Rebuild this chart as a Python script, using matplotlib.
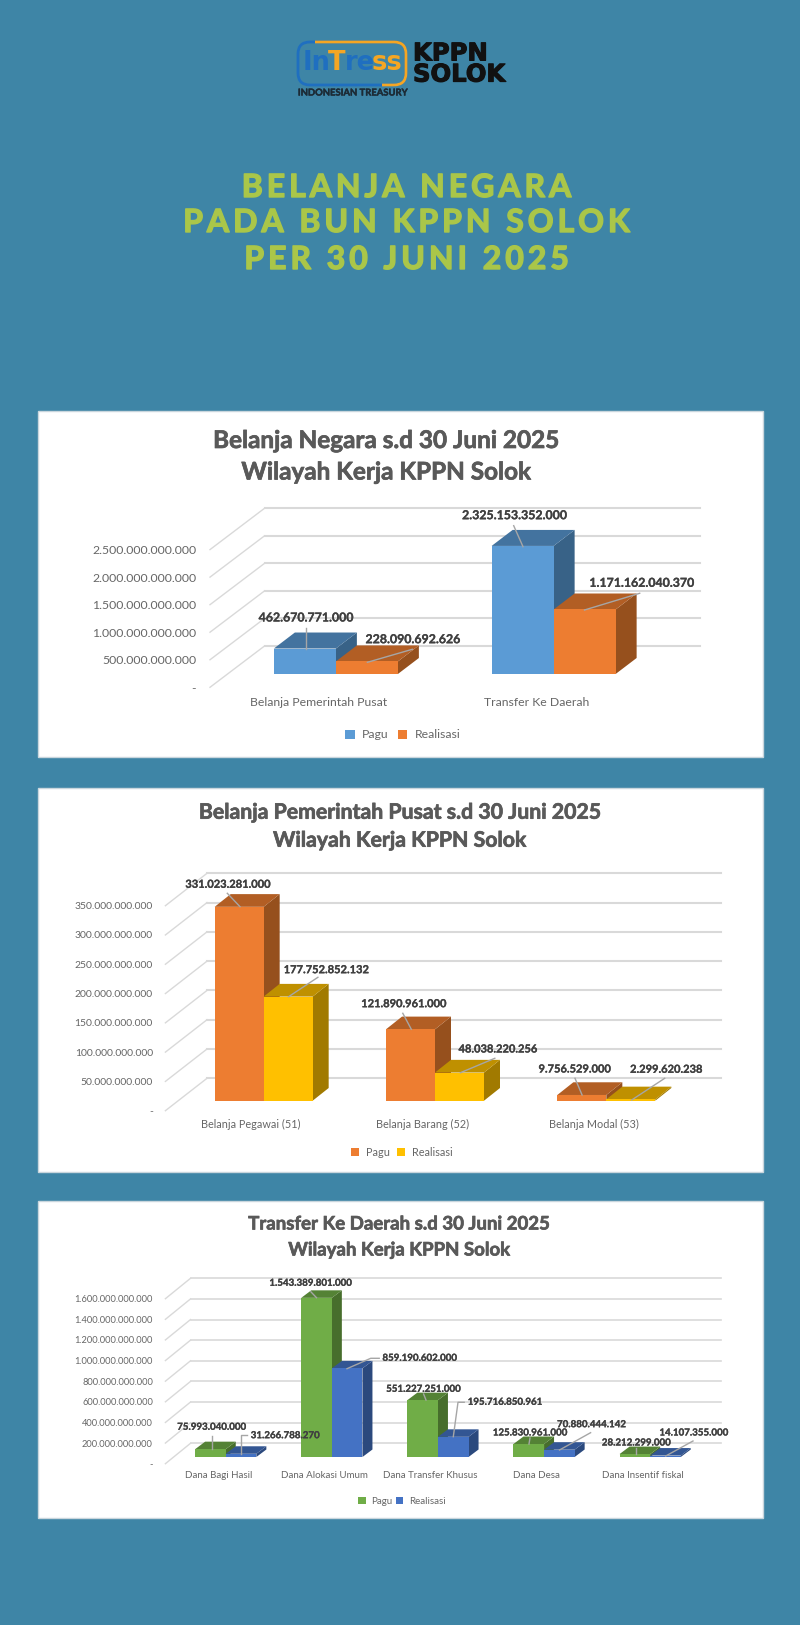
import matplotlib
matplotlib.use('Agg')
import matplotlib.pyplot as plt
import matplotlib.patheffects as pe
from matplotlib.patches import Polygon, Rectangle, FancyBboxPatch

W, H = 800, 1625
plt.rcParams['font.family'] = ['Lato', 'DejaVu Sans']

## chart 1
cats_1 = ['Belanja Pemerintah Pusat', 'Transfer Ke Daerah']
pagu_1 = [462670771000, 2325153352000]
real_1 = [228090692626, 1171162040370]
ticks_1 = [0, 500000000000, 1000000000000, 1500000000000, 2000000000000, 2500000000000]

## chart 2
cats_2 = ['Belanja Pegawai (51)', 'Belanja Barang (52)', 'Belanja Modal (53)']
pagu_2 = [331023281000, 121890961000, 9756529000]
real_2 = [177752852132, 48038220256, 2299620238]
ticks_2 = [0, 50000000000, 100000000000, 150000000000, 200000000000, 250000000000, 300000000000, 350000000000]

## chart 3
cats_3 = ['Dana Bagi Hasil', 'Dana Alokasi Umum', 'Dana Transfer Khusus', 'Dana Desa', 'Dana Insentif fiskal']
pagu_3 = [75993040000, 1543389801000, 551227251000, 125830961000, 28212299000]
real_3 = [31266788270, 859190602000, 195716850961, 70880444142, 14107355000]
ticks_3 = [0, 200000000000, 400000000000, 600000000000, 800000000000, 1000000000000,
           1200000000000, 1400000000000, 1600000000000]

BG = '#3E85A6'
GREY = '#595959'
GRID = '#D9D9D9'

# (front, top, side) shades of each series
BLUE = ('#5B9BD5', '#43739F', '#386287')
ORANGE = ('#ED7D31', '#B25E24', '#96501D')
YELLOW = ('#FFC000', '#BF9000', '#A17A00')
GREEN = ('#70AD47', '#548235', '#476E2C')
ROYAL = ('#4472C4', '#335693', '#2B497D')


def fmt(v):
    return f'{v:,}'.replace(',', '.') if v else '-'


def rect(x0, x1, y_top, y_bot):
    return [x0 / W, 1 - y_bot / H, (x1 - x0) / W, (y_bot - y_top) / H]


fig = plt.figure(figsize=(W / 100, H / 100), dpi=100, facecolor=BG)
bg = fig.add_axes([0, 0, 1, 1], zorder=0)
fg = fig.add_axes([0, 0, 1, 1], zorder=10)
for a in (bg, fg):
    a.set_xlim(0, W)
    a.set_ylim(H, 0)
    a.axis('off')
    a.patch.set_alpha(0)


def panel(box, title, title_y, title_size, cats, s1, s2, ticks, col1, col2, lay):
    bg.add_patch(Rectangle((box[0], box[1]), box[2] - box[0], box[3] - box[1],
                           fc='white', ec='#C9D6DD', lw=1))
    for line, y in zip(title, title_y):
        fg.text(400 + lay['title_dx'], y, line, ha='center', va='center', color=GREY,
                fontsize=title_size, fontweight='bold',
                path_effects=[pe.withStroke(linewidth=0.5, foreground=GREY)])

    n = len(cats)
    ymax = ticks[-1]
    width = lay['back_x'][1] - lay['back_x'][0]
    height = lay['back_y'][0] - lay['back_y'][1]

    # back wall with the gridlines
    back = fig.add_axes(rect(lay['back_x'][0], lay['back_x'][1], lay['back_y'][1], lay['back_y'][0]), zorder=1)
    # front plane carries the axis labels
    fx = lay['front_x']
    fy = lay['front_y']
    front = fig.add_axes(rect(fx, fx + width, fy - height, fy), zorder=2)
    # bar plane
    bx = lay['bar_x']
    by = lay['bar_y']
    ax = fig.add_axes(rect(bx, bx + width, by - height, by), zorder=3)

    for a in (back, front, ax):
        a.set_xlim(0, n)
        a.set_ylim(0, ymax)
        a.patch.set_alpha(0)
        for s in a.spines.values():
            s.set_visible(False)

    back.set_yticks(ticks)
    back.set_xticks([])
    back.tick_params(length=0, labelleft=False)
    back.grid(axis='y', color=GRID, lw=lay['grid_lw'])
    for g in back.get_ygridlines():
        g.set_clip_on(False)

    front.set_yticks(ticks, [fmt(t) for t in ticks])
    front.set_xticks([i + 0.5 for i in range(n)], cats)
    front.tick_params(axis='y', length=0, pad=lay['pad_y'], labelsize=lay['tick_size'], labelcolor='#666666')
    front.tick_params(axis='x', length=0, pad=lay['pad_x'], labelsize=lay['cat_size'], labelcolor='#666666')

    # side wall lines from the front plane to the back wall
    wall_dx = (lay['back_x'][0] - fx) / width * n
    wall_dy = (fy - lay['back_y'][0]) / height * ymax
    for t in ticks:
        front.plot([0, wall_dx], [t, t + wall_dy], color=GRID, lw=1, clip_on=False)

    bw = lay['bar_w'] / width * n
    ddx = lay['depth'][0] / width * n
    ddy = lay['depth'][1] / height * ymax
    handles = []
    for i in range(n):
        for j, (v, col) in enumerate(((s1[i], col1), (s2[i], col2))):
            x0 = i + 0.5 - bw + j * bw
            x1 = x0 + bw
            z = 2 + i * 3 + j * 3
            ax.add_patch(Polygon([(x1, 0), (x1 + ddx, ddy), (x1 + ddx, v + ddy), (x1, v)],
                                 fc=col[2], ec='none', zorder=z, clip_on=False))
            ax.add_patch(Polygon([(x0, v), (x0 + ddx, v + ddy), (x1 + ddx, v + ddy), (x1, v)],
                                 fc=col[1], ec='none', zorder=z, clip_on=False))
            b = ax.bar(x0, v, bw, align='edge', color=col[0], zorder=z + 1, clip_on=False)
            if i == 0:
                handles.append(b)

    ax.set_xticks([])
    ax.set_yticks([])
    ax.legend(handles, ['Pagu', 'Realisasi'], ncols=2, loc='center', frameon=False,
              bbox_to_anchor=(lay['legend'][0] / W, 1 - lay['legend'][1] / H),
              bbox_transform=fig.transFigure, handlelength=0.75, handleheight=0.75,
              handletextpad=0.6, columnspacing=lay['legend_gap'], labelcolor='#666666',
              fontsize=lay['cat_size'])

    # data labels with their leader lines
    values = [v for pair in zip(s1, s2) for v in pair]
    for v, (tx, ty), leader in zip(values, lay['labels'], lay['leaders']):
        fg.plot([p[0] for p in leader], [p[1] for p in leader], color='#A6A6A6', lw=1, zorder=3)
        fg.text(tx, ty, fmt(v), ha='center', va='center', color='#404040',
                fontsize=lay['label_size'], fontweight='bold', zorder=4,
                path_effects=[pe.withStroke(linewidth=0.2, foreground='#404040')])


layout_1 = dict(title_dx=-14, back_x=(264.5, 700), back_y=(646, 508.3), front_x=210, front_y=687.3,
                bar_x=227, bar_y=674, bar_w=62, depth=(21, 16), grid_lw=1.5, pad_y=10, pad_x=7,
                tick_size=8.85, cat_size=8.8, label_size=8.9, legend=(403, 735), legend_gap=0.8,
                labels=[(306, 618), (413, 639.7), (515, 515.7), (642, 583.3)],
                leaders=[[(306, 649.3), (306, 628.3)], [(367.4, 662.3), (412.3, 649.3)],
                         [(523, 546.7), (513.7, 525.7)], [(584.5, 610), (639.7, 593.3)]])

layout_2 = dict(title_dx=0, back_x=(207, 721), back_y=(1078.3, 873.3), front_x=165.4, front_y=1110.7,
                bar_x=178, bar_y=1100.7, bar_w=49, depth=(16, 12.7), grid_lw=1.5, pad_y=9, pad_x=6,
                tick_size=7.5, cat_size=7.8, label_size=8, legend=(402, 1152.7), legend_gap=0.7,
                labels=[(228.2, 884.3), (326.4, 969.7), (404.2, 1003.7), (498.1, 1049),
                        (575, 1069), (666.6, 1069.3)],
                leaders=[[(240, 906.7), (227.3, 893.3)], [(288.6, 996.7), (317.9, 977.3)],
                         [(411.3, 1029.3), (402.8, 1013.3)], [(460.4, 1072.7), (494.8, 1058.3)],
                         [(582.1, 1095), (575, 1078.3)], [(631.7, 1100), (664.7, 1078.3)]])

layout_3 = dict(title_dx=-0.5, back_x=(190.5, 721), back_y=(1443.3, 1278.3), front_x=165.4, front_y=1463.7,
                bar_x=172.7, bar_y=1457, bar_w=30.6, depth=(10, 7.5), grid_lw=1.2, pad_y=9, pad_x=5,
                tick_size=6.7, cat_size=7.0, label_size=7, legend=(402, 1501), legend_gap=0.3,
                labels=[(211.7, 1427.3), (285.3, 1435.7), (310.8, 1283.3), (419.8, 1358.3),
                        (423.6, 1389.3), (505.2, 1402.3), (530.2, 1433), (591.6, 1424.7),
                        (636.4, 1443), (694, 1433)],
                leaders=[[(211.7, 1449.3), (211.7, 1435.7)], [(241, 1454), (241, 1435), (247, 1435)],
                         [(316.5, 1297.7), (310.8, 1291.7)], [(347, 1368.7), (370.7, 1358.3), (379.2, 1358.3)],
                         [(426, 1400), (423.6, 1394)], [(453.3, 1436.7), (458, 1402.3), (464.2, 1402.3)],
                         [(529, 1444), (530, 1438)], [(559.5, 1450), (590.6, 1432.7)],
                         [(636.4, 1454), (636.4, 1448)], [(665.7, 1456), (693, 1441)]])

panel((38, 411, 763, 757), ['Belanja Negara s.d 30 Juni 2025', 'Wilayah Kerja KPPN Solok'], (440.5, 472), 17.5,
      cats_1, pagu_1, real_1, ticks_1, BLUE, ORANGE, layout_1)
panel((38, 788, 763, 1172), ['Belanja Pemerintah Pusat s.d 30 Juni 2025', 'Wilayah Kerja KPPN Solok'], (812.7, 840.7), 15.3,
      cats_2, pagu_2, real_2, ticks_2, ORANGE, YELLOW, layout_2)
panel((38, 1201, 763, 1518), ['Transfer Ke Daerah s.d 30 Juni 2025', 'Wilayah Kerja KPPN Solok'], (1224, 1250), 13.4,
      cats_3, pagu_3, real_3, ticks_3, GREEN, ROYAL, layout_3)

## heading
HEAD = '#AAC649'
for line, y in zip(['BELANJA NEGARA', 'PADA BUN KPPN SOLOK', 'PER 30 JUNI 2025'], (187.5, 222.5, 259.5)):
    fg.text(407, y, '\u2009'.join(line), ha='center', va='center', color=HEAD,
            fontsize=23, fontweight='bold',
            path_effects=[pe.withStroke(linewidth=1, foreground=HEAD)])

## logo
BLUE_L = '#1F6FC0'
ORANGE_L = '#F5A623'
fg.add_patch(FancyBboxPatch((298, 42), 108, 43, boxstyle='round,pad=0,rounding_size=12', fc='none', ec=BLUE_L, lw=2))
arc = FancyBboxPatch((298, 42), 108, 43, boxstyle='round,pad=0,rounding_size=12', fc='none', ec=ORANGE_L, lw=2)
fg.add_patch(arc)
arc.set_clip_path(Polygon([(315, 30), (415, 30), (415, 95), (382, 95), (382, 60), (315, 60)], transform=fg.transData))
for s, x, c in [('In', 303, BLUE_L), ('T', 328, ORANGE_L), ('re', 345, BLUE_L), ('ss', 372, ORANGE_L)]:
    fg.text(x, 63, s, color=c, fontsize=18.5, fontweight='bold', family=['Liberation Sans Narrow', 'DejaVu Sans'],
            ha='left', va='center', zorder=3)
fg.text(352.5, 93, 'INDONESIAN TREASURY', color='#1C2B36', fontsize=6.8, fontweight='bold', ha='center', va='center',
        path_effects=[pe.withStroke(linewidth=0.3, foreground='#1C2B36')])
fg.text(413, 64, 'KPPN\nSOLOK', color='#111111', fontsize=17.5, family='DejaVu Sans', fontweight='bold',
        ha='left', va='center', linespacing=0.85,
        path_effects=[pe.withStroke(linewidth=0.8, foreground='#111111')])

fig.savefig('out.png', dpi=100, facecolor=BG)
